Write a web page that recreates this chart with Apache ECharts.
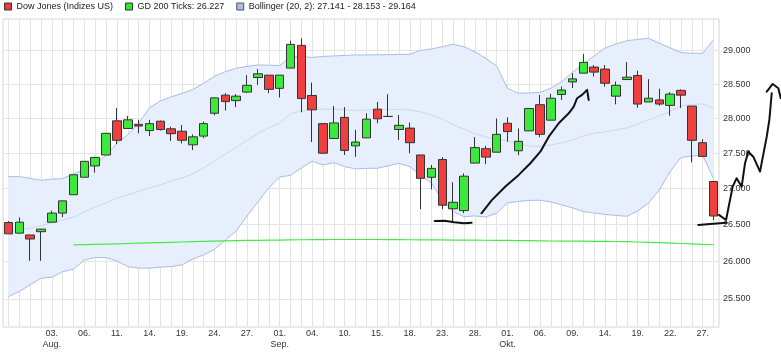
<!DOCTYPE html>
<html lang="de">
<head>
<meta charset="utf-8"/>
<title>Dow Jones</title>
<script src="https://cdn.jsdelivr.net/npm/echarts@6/dist/echarts.min.js"></script>
<style>
    html, body { margin: 0; background: #fff; }
    #chart { width: 781px; height: 353px; }
</style>
</head>
<body>
<div id="chart"></div>
<script>
    // one label per candle, '' = no label
    var categories = [
        '', '', '', '',
        '03.\nAug.', '', '', '06.', '', '', '11.', '', '', '14.', '', '', '19.', '', '', '24.', '', '', '27.', '', '',
        '01.\nSep.', '', '', '04.', '', '', '10.', '', '', '15.', '', '', '18.', '', '', '23.', '', '', '28.', '', '',
        '01.\nOkt.', '', '', '06.', '', '', '09.', '', '', '14.', '', '', '19.', '', '', '22.', '', '', '27.', ''
    ];

    // [open, close, low, high]
    var candles = [
        [26530, 26375, 26375, 26550], [26385, 26535, 26380, 26600], [26360, 26305, 26010, 26360], [26405, 26440, 26010, 26440],
        [26535, 26660, 26535, 26695], [26660, 26830, 26605, 26830], [26915, 27195, 26915, 27195], [27160, 27385, 27160, 27385],
        [27320, 27440, 27225, 27450], [27475, 27785, 27475, 27790], [27965, 27685, 27630, 28150], [27855, 27980, 27855, 28035],
        [27915, 27890, 27785, 27980], [27825, 27925, 27745, 27980], [27960, 27840, 27825, 27970], [27850, 27780, 27675, 27880],
        [27815, 27685, 27640, 27905], [27620, 27735, 27545, 27770], [27745, 27925, 27715, 27955], [28075, 28300, 28045, 28300],
        [28340, 28245, 28115, 28370], [28260, 28325, 28165, 28355], [28385, 28485, 28370, 28635], [28600, 28655, 28490, 28725],
        [28635, 28425, 28370, 28635], [28440, 28635, 28305, 28635], [28740, 29095, 28740, 29150], [29080, 28290, 28090, 29185],
        [28335, 28125, 27660, 28525], [27925, 27500, 27495, 27925], [27710, 27935, 27710, 28180], [28015, 27540, 27475, 28165],
        [27605, 27660, 27450, 27835], [27720, 27990, 27720, 28075], [28135, 27995, 27930, 28240], [28028, 28030, 28028, 28355],
        [27840, 27900, 27690, 28050], [27860, 27650, 27500, 27940], [27475, 27145, 26715, 27475], [27160, 27285, 26990, 27335],
        [27410, 26770, 26715, 27445], [26720, 26810, 26530, 27090], [26695, 27175, 26660, 27215], [27360, 27580, 27360, 27730],
        [27565, 27445, 27345, 27605], [27515, 27770, 27515, 28000], [27930, 27810, 27665, 28015], [27535, 27670, 27470, 27855],
        [27820, 28145, 27820, 28145], [28200, 27770, 27730, 28345], [27975, 28295, 27975, 28360], [28350, 28415, 28270, 28465],
        [28535, 28580, 28445, 28665], [28665, 28825, 28665, 28950], [28755, 28680, 28615, 28785], [28725, 28515, 28465, 28785],
        [28325, 28485, 28205, 28540], [28570, 28605, 28570, 28830], [28630, 28210, 28155, 28700], [28240, 28295, 28240, 28575],
        [28270, 28210, 28185, 28435], [28190, 28355, 28040, 28385], [28410, 28340, 28150, 28425], [28180, 27685, 27370, 28180],
        [27650, 27455, 27455, 27700], [27100, 26620, 26565, 27100]
    ];

    var bollUpper = [
        27169, 27169, 27144, 27118, 27133, 27141, 27207, 27270, 27348, 27468,
        27642, 27762, 27930, 28153, 28256, 28314, 28365, 28424, 28515, 28619,
        28688, 28738, 28765, 28787, 28783, 28777, 28906, 28911, 28899, 28914,
        28921, 28929, 28936, 28936, 28939, 28940, 28943, 28946, 29003, 29026,
        29060, 29098, 29060, 28981, 28887, 28772, 28441, 28368, 28372, 28380,
        28441, 28539, 28676, 28802, 28921, 29041, 29101, 29151, 29169, 29187,
        29112, 29041, 28973, 28961, 28961, 29164
    ];
    var bollMiddle = [
        26401, 26428, 26455, 26489, 26524, 26565, 26607, 26676, 26746, 26801,
        26871, 26912, 26961, 27010, 27052, 27109, 27151, 27207, 27292, 27390,
        27489, 27582, 27690, 27783, 27863, 27935, 28065, 28109, 28134, 28134,
        28134, 28124, 28117, 28124, 28131, 28134, 28131, 28124, 28095, 28051,
        27992, 27906, 27848, 27776, 27733, 27704, 27676, 27633, 27604, 27597,
        27619, 27647, 27690, 27748, 27786, 27805, 27834, 27863, 27920, 27978,
        28036, 28102, 28182, 28204, 28211, 28153
    ];
    var bollLower = [
        25531, 25600, 25687, 25776, 25789, 25864, 25896, 26020, 26054, 26054,
        26007, 25932, 25911, 25911, 25924, 25932, 25955, 26034, 26088, 26163,
        26292, 26414, 26621, 26815, 27010, 27165, 27186, 27292, 27386, 27334,
        27366, 27310, 27278, 27285, 27287, 27320, 27358, 27310, 27193, 27076,
        26843, 26683, 26611, 26621, 26607, 26658, 26801, 26822, 26836, 26839,
        26815, 26774, 26732, 26680, 26662, 26642, 26628, 26617, 26690, 26797,
        26982, 27242, 27439, 27461, 27468, 27141
    ];
    var gd200 = [
        null, null, null, null, null, null, 26224, 26228, 26232, 26236,
        26240, 26244, 26248, 26252, 26256, 26260, 26264, 26268, 26272, 26276,
        26280, 26283, 26285, 26287, 26289, 26291, 26293, 26295, 26296, 26297,
        26298, 26298, 26298, 26298, 26298, 26297, 26296, 26295, 26294, 26293,
        26292, 26291, 26290, 26289, 26288, 26287, 26286, 26284, 26282, 26280,
        26278, 26277, 26276, 26275, 26274, 26273, 26271, 26268, 26264, 26260,
        26256, 26250, 26244, 26238, 26232, 26227
    ];

    var priceTicks = [25500, 26000, 26500, 27000, 27500, 28000, 28500, 29000];
    var priceRange = [25133, 29480];

    // hand drawn strokes, points as [candle index, price]
    var strokeBottom1 = [[39.3, 26551], [40.2, 26555], [41.1, 26533], [42.0, 26519], [42.7, 26527]];
    var strokeRise1 = [[43.6, 26658], [44.58, 26843], [45.81, 27030], [47.04, 27193], [48.11, 27358], [49.03, 27522],
        [49.81, 27737], [50.73, 27930], [51.65, 28075], [52.11, 28172], [52.42, 28295], [52.88, 28344], [53.34, 28418], [53.49, 28270]];
    var strokeBottom2 = [[63.59, 26496], [64.67, 26510], [66.21, 26528]];
    var strokeRise2 = [[65.5, 26635], [66.15, 26565], [66.76, 27028], [67.13, 27147], [67.59, 27028], [67.9, 27358], [68.2, 27522],
        [68.66, 27451], [69.28, 27240], [69.9, 27737], [70.14, 27978], [70.36, 28368]];
    var strokeArrow2 = [[69.9, 28392], [70.45, 28505], [70.97, 28442], [71.19, 28295]];

    function fmtPrice(v) {
        var s = String(Math.round(v));
        return s.slice(0, -3) + '.' + s.slice(-3);
    }

    function last(arr) {
        return arr[arr.length - 1];
    }

    // the price axis is logarithmic, so everything is drawn as ln(price)
    var ln = function (v) { return v == null ? null : Math.log(v); };

    var dowName = 'Dow Jones (Indizes US)';
    var gdName = 'GD 200 Ticks: ' + fmtPrice(last(gd200));
    var bbName = 'Bollinger (20, 2): ' + [last(bollLower), last(bollMiddle), last(bollUpper)].map(fmtPrice).join(' - ');

    var font = "'Liberation Sans', Arial, sans-serif";
    var candleIdx = candles.map(function (c, i) { return i; });

    // plot box and a wider overlay box (same left edge) for the hand drawn strokes
    var W = 781, gridLeft = 3, gridRight = 62;
    var perCandle = (W - gridLeft - gridRight) / candles.length;
    var overlayMax = -0.5 + (W - gridLeft) / perCandle;

    var strokeSeries = [strokeBottom1, strokeRise1, strokeBottom2, strokeRise2, strokeArrow2].map(function (s) {
        return {
            type: 'line',
            xAxisIndex: 2,
            yAxisIndex: 1,
            data: s.map(function (p) { return [p[0], ln(p[1])]; }),
            symbol: 'none',
            clip: false,
            silent: true,
            z: 10,
            lineStyle: { color: '#111', width: 2, join: 'round', cap: 'round' }
        };
    });

    var chart = echarts.init(document.getElementById('chart'), null, { renderer: 'canvas' });
    chart.setOption({
        animation: false,
        backgroundColor: '#fff',
        textStyle: { fontFamily: font },
        legend: {
            left: 4,
            top: 2,
            padding: 0,
            itemWidth: 7,
            itemHeight: 7,
            itemGap: 12,
            selectedMode: false,
            textStyle: { fontSize: 9, color: '#222', fontFamily: font },
            data: [
                { name: dowName, icon: 'rect', itemStyle: { color: '#ee3c3c', borderColor: '#333', borderWidth: 1 } },
                { name: gdName, icon: 'rect', itemStyle: { color: '#33e633', borderColor: '#333', borderWidth: 1 } },
                { name: bbName, icon: 'rect', itemStyle: { color: '#a9bde8', borderColor: '#555', borderWidth: 1 } }
            ]
        },
        grid: [{
            left: gridLeft,
            right: gridRight,
            top: 19,
            bottom: 26,
            show: true,
            borderColor: '#d6d6d6',
            borderWidth: 1
        }, {
            left: gridLeft,
            right: 0,
            top: 19,
            bottom: 26
        }],
        xAxis: [{
            type: 'category',
            data: categories,
            boundaryGap: true,
            axisLine: { show: false },
            axisTick: { show: false },
            splitLine: { show: false },
            axisLabel: { interval: 0, fontSize: 9, lineHeight: 11, margin: 1, color: '#333', fontFamily: font }
        }, {
            type: 'value',
            min: -0.5,
            max: candles.length - 0.5,
            axisLine: { show: false },
            axisLabel: { show: false },
            axisTick: { show: false, customValues: candleIdx },
            splitLine: { show: true, lineStyle: { color: '#e4e4e4', width: 1 } }
        }, {
            type: 'value',
            gridIndex: 1,
            min: -0.5,
            max: overlayMax,
            show: false
        }],
        yAxis: [{
            type: 'value',
            position: 'right',
            min: ln(priceRange[0]),
            max: ln(priceRange[1]),
            axisLine: { show: false },
            axisTick: { show: false, customValues: priceTicks.map(ln) },
            axisLabel: {
                customValues: priceTicks.map(ln),
                fontSize: 9,
                margin: 4,
                color: '#333',
                fontFamily: font,
                formatter: function (v) { return fmtPrice(Math.exp(v)); }
            },
            splitLine: { show: true, lineStyle: { color: '#e4e4e4', width: 1 } }
        }, {
            type: 'value',
            gridIndex: 1,
            min: ln(priceRange[0]),
            max: ln(priceRange[1]),
            show: false
        }],
        series: [{
            name: 'bbBase',
            type: 'line',
            stack: 'boll',
            data: bollLower.map(ln),
            symbol: 'none',
            silent: true,
            lineStyle: { opacity: 0 },
            z: 1
        }, {
            name: bbName,
            type: 'line',
            stack: 'boll',
            data: bollUpper.map(function (v, i) { return ln(v) - ln(bollLower[i]); }),
            symbol: 'none',
            silent: true,
            lineStyle: { opacity: 0 },
            areaStyle: { color: '#e8effc', opacity: 1 },
            itemStyle: { color: '#a9bde8' },
            z: 1
        }, {
            name: 'bbUpper',
            type: 'line',
            data: bollUpper.map(ln),
            symbol: 'none',
            silent: true,
            lineStyle: { color: '#a8bde8', width: 1 },
            z: 2
        }, {
            name: 'bbMiddle',
            type: 'line',
            data: bollMiddle.map(ln),
            symbol: 'none',
            silent: true,
            lineStyle: { color: '#c8d7f4', width: 1 },
            z: 2
        }, {
            name: 'bbLower',
            type: 'line',
            data: bollLower.map(ln),
            symbol: 'none',
            silent: true,
            lineStyle: { color: '#a8bde8', width: 1 },
            z: 2
        }, {
            name: gdName,
            type: 'line',
            data: gd200.map(ln),
            symbol: 'none',
            silent: true,
            itemStyle: { color: '#33e633' },
            lineStyle: { color: '#44ea44', width: 1.2 },
            z: 3
        }, {
            name: dowName,
            type: 'candlestick',
            data: candles.map(function (c) { return c.map(ln); }),
            barWidth: 9,
            silent: true,
            itemStyle: {
                color: '#3ce83c',
                color0: '#ef3f3f',
                borderColor: '#333',
                borderColor0: '#333',
                borderWidth: 1
            },
            z: 5
        }].concat(strokeSeries)
    });

    window.addEventListener('resize', function () { chart.resize(); });
</script>
</body>
</html>
